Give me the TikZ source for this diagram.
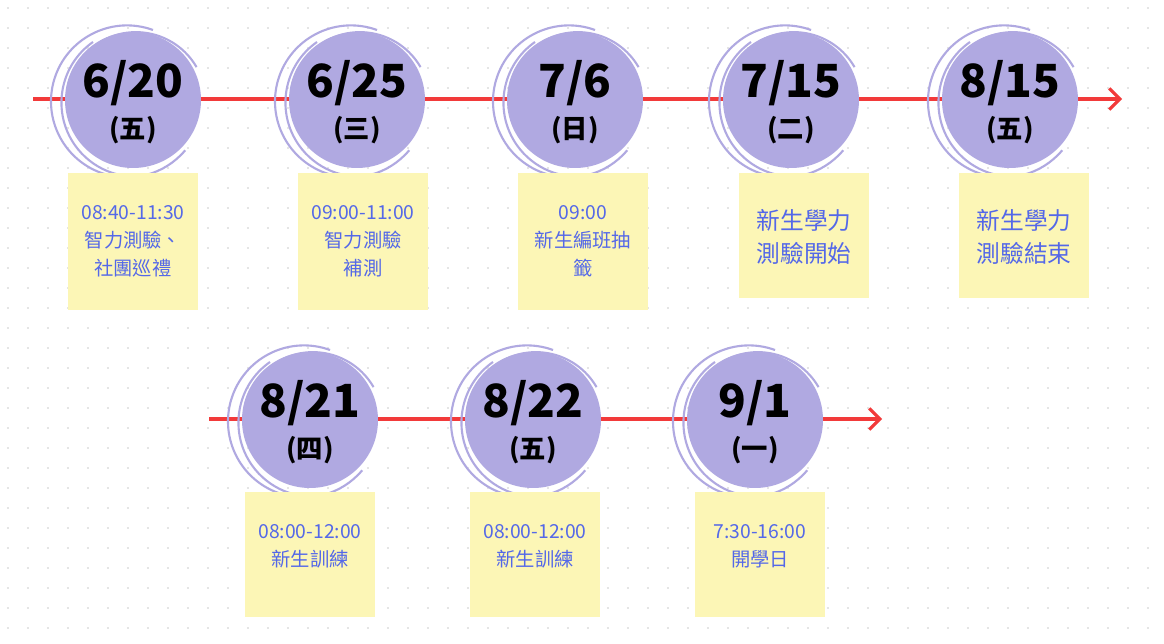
\documentclass[tikz,border=0pt]{standalone}
\usepackage{fontspec}
\setmainfont{Noto Sans CJK TC}
\usetikzlibrary{calc,positioning,arrows.meta}
\definecolor{lilac}{HTML}{B0A9E1}
\definecolor{notey}{HTML}{FCF6B6}
\definecolor{noteblue}{HTML}{5468E8}
\definecolor{linered}{HTML}{F23A3A}
\tikzset{
  date/.style={font=\fontsize{26}{28}\selectfont\bfseries},
  wday/.style={font=\fontsize{15}{17}\selectfont\bfseries},
  note/.style={fill=notey, minimum width=130*0.02cm, anchor=north,
    text=noteblue, align=center, inner sep=0pt},
  brush/.style={draw=lilac, line width=1.2pt},
  axis/.style={draw=linered, line width=1.8pt, -{Straight Barb[length=6pt]}}
}
\newcommand{\stamp}[5]{% name, x, y, date, weekday
  \fill[lilac] (#2,#3) circle (68);
  \draw[brush] ($(#2,#3)+(-66,-10)$) arc (190:330:70);
  \draw[brush] ($(#2,#3)+(-40,-58)$) arc (235:80:74);
  \draw[brush] ($(#2,#3)+(20,-70)$) arc (290:40:76);
  \node[date] (#1d) at (#2,#3-17) {#4};
  \node[wday] (#1w) at (#2,#3+30) {(#5)};
}
\begin{document}
\begin{tikzpicture}[x=0.02cm,y=-0.02cm]
\useasboundingbox (0,0) rectangle (1164,644);
\fill[white] (0,0) rectangle (1164,644);
\foreach \i in {0,...,58} \foreach \j in {0,...,32}
  \fill[gray!40] (\i*20+8,\j*20+8) circle (0.9);
% first row
\coordinate (r1s) at (33,99);
\coordinate (r1e) at (1122,99);
\draw[axis] (r1s) -- (r1e);
\foreach \n/\x/\dt/\wk in {a/133/6\slash 20/五, b/357/6\slash 25/三, c/575/7\slash 6/日, d/791/7\slash 15/二, e/1010/8\slash 15/五}
  {\stamp{\n}{\x}{100}{\dt}{\wk}}
\node[note, minimum height=137*0.02cm] (na) at (133,173) {};
\node[note, minimum height=137*0.02cm] (nb) at (363,173) {};
\node[note, minimum height=137*0.02cm] (nc) at (583,173) {};
\node[note, minimum height=125*0.02cm] (nd) at (804,173) {};
\node[note, minimum height=125*0.02cm] (ne) at (1024,173) {};
\node[text=noteblue, align=center, font=\fontsize{11}{16}\selectfont] at (133,241) {08:40-11:30\\智力測驗、\\社團巡禮};
\node[text=noteblue, align=center, font=\fontsize{11}{16}\selectfont] at (363,241) {09:00-11:00\\智力測驗\\補測};
\node[text=noteblue, align=center, font=\fontsize{11}{16}\selectfont] at (583,241) {09:00\\新生編班抽\\籤};
\node[text=noteblue, align=center, font=\fontsize{13.5}{19}\selectfont] at (804,237) {新生學力\\測驗開始};
\node[text=noteblue, align=center, font=\fontsize{13.5}{19}\selectfont] at (1024,237) {新生學力\\測驗結束};
% second row
\coordinate (r2s) at (209,419);
\coordinate (r2e) at (882,419);
\draw[axis] (r2s) -- (r2e);
\foreach \n/\x/\dt/\wk in {f/310/8\slash 21/四, g/533/8\slash 22/五, h/755/9\slash 1/一}
  {\stamp{\n}{\x}{420}{\dt}{\wk}}
\node[note, minimum height=125*0.02cm] (nf) at (310,492) {};
\node[note, minimum height=125*0.02cm] (ng) at (535,492) {};
\node[note, minimum height=125*0.02cm] (nh) at (760,492) {};
\node[text=noteblue, align=center, font=\fontsize{11}{16}\selectfont] at (310,546) {08:00-12:00\\新生訓練};
\node[text=noteblue, align=center, font=\fontsize{11}{16}\selectfont] at (535,546) {08:00-12:00\\新生訓練};
\node[text=noteblue, align=center, font=\fontsize{11}{16}\selectfont] at (760,546) {7:30-16:00\\開學日};
\end{tikzpicture}
\end{document}
